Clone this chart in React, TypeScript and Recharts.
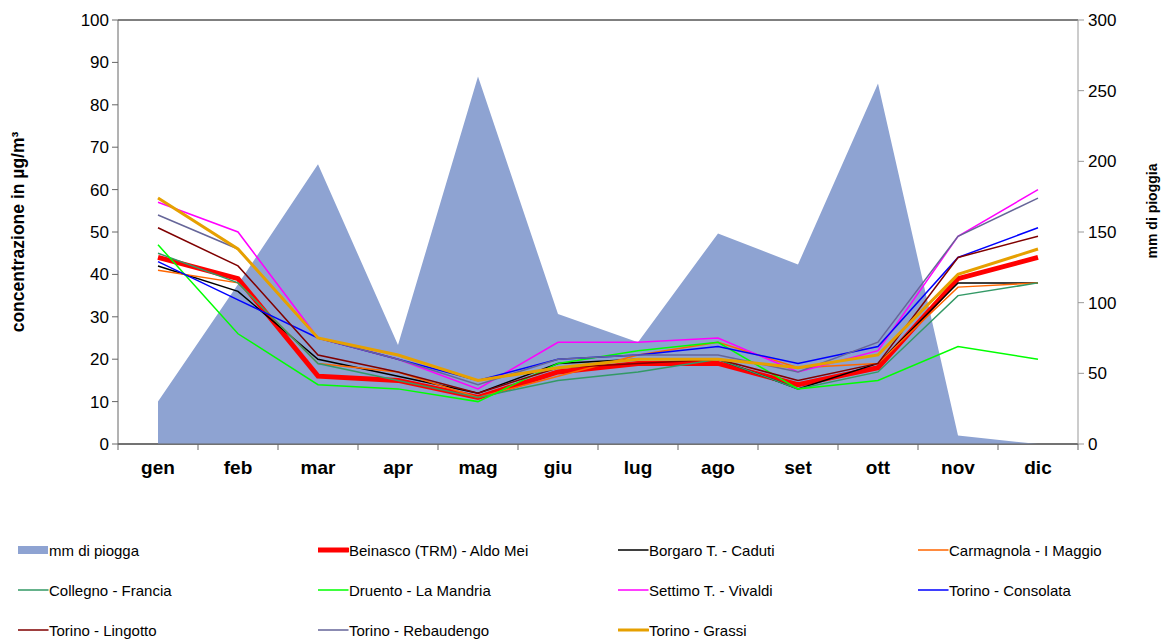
import { ComposedChart, Area, Line, XAxis, YAxis, CartesianGrid } from 'recharts';

const months = ['gen', 'feb', 'mar', 'apr', 'mag', 'giu', 'lug', 'ago', 'set', 'ott', 'nov', 'dic'];

// mm di pioggia (right axis)
const rain = [30, 113, 198, 70, 260, 92, 72, 149, 127, 255, 6, 0];

// concentrazioni µg/m³ (left axis)
const beinasco = [44, 39, 16, 15, 11, 17, 19, 19, 14, 18, 39, 44];
const borgaro = [42, 36, 20, 16, 12, 19, 20, 20, 13, 19, 38, 38];
const carmagnola = [41, 38, 19, 17, 11, 16, 21, 24, 18, 19, 37, 38];
const collegno = [45, 38, 19, 15, 11, 15, 17, 20, 13, 17, 35, 38];
const druento = [47, 26, 14, 13, 10, 19, 22, 24, 13, 15, 23, 20];
const settimo = [57, 50, 25, 20, 13, 24, 24, 25, 17, 22, 49, 60];
const consolata = [43, 34, 25, 20, 15, 20, 21, 23, 19, 23, 44, 51];
const lingotto = [51, 42, 21, 17, 12, 18, 19, 20, 15, 19, 44, 49];
const rebaudengo = [54, 46, 25, 20, 14, 20, 21, 21, 17, 24, 49, 58];
const grassi = [58, 46, 25, 21, 15, 18, 20, 20, 18, 21, 40, 46];

const leftTicks = [0, 10, 20, 30, 40, 50, 60, 70, 80, 90, 100];
const rightTicks = [0, 50, 100, 150, 200, 250, 300];

const RAIN_COLOR = '#8EA3D2';

const series = [
  { key: 'beinasco', name: 'Beinasco (TRM) - Aldo Mei', values: beinasco, color: '#FF0000', width: 5 },
  { key: 'borgaro', name: 'Borgaro T. - Caduti', values: borgaro, color: '#000000', width: 1.5 },
  { key: 'carmagnola', name: 'Carmagnola - I Maggio', values: carmagnola, color: '#FF6600', width: 1.5 },
  { key: 'collegno', name: 'Collegno - Francia', values: collegno, color: '#339966', width: 1.5 },
  { key: 'druento', name: 'Druento - La Mandria', values: druento, color: '#00FF00', width: 1.5 },
  { key: 'settimo', name: 'Settimo T. - Vivaldi', values: settimo, color: '#FF00FF', width: 1.5 },
  { key: 'consolata', name: 'Torino - Consolata', values: consolata, color: '#0000FF', width: 1.5 },
  { key: 'lingotto', name: 'Torino - Lingotto', values: lingotto, color: '#800000', width: 1.5 },
  { key: 'rebaudengo', name: 'Torino - Rebaudengo', values: rebaudengo, color: '#666699', width: 1.5 },
  { key: 'grassi', name: 'Torino - Grassi', values: grassi, color: '#E6A000', width: 3 },
];

const data = months.map((m, i) => {
  const row: Record<string, string | number> = { month: m, rain: rain[i] };
  series.forEach(s => {
    row[s.key] = s.values[i];
  });
  return row;
});

const FONT = '"Liberation Sans", Arial, sans-serif';

// month label + tick mark on the category boundary (Excel style)
function MonthTick(props: any) {
  const { x, y, payload, index } = props;
  const half = 40;
  return (
    <g>
      <line x1={x - half} y1={y} x2={x - half} y2={y + 6} stroke="#666" />
      {index === months.length - 1 && (
        <line x1={x + half} y1={y} x2={x + half} y2={y + 6} stroke="#666" />
      )}
      <text x={x} y={y + 30} textAnchor="middle" fontFamily={FONT} fontWeight="bold" fontSize={19} fill="#000">
        {payload.value}
      </text>
    </g>
  );
}

const legendItems = [
  { name: 'mm di piogga', color: RAIN_COLOR, width: 0, area: true },
  ...series.map(s => ({ name: s.name, color: s.color, width: s.width, area: false })),
];

function LegendBox() {
  return (
    <div style={{ position: 'absolute', left: 18, top: 538, width: 1140, fontFamily: FONT, fontSize: 15, color: '#000' }}>
      {legendItems.map((it, i) => (
        <div
          key={it.name}
          style={{
            position: 'absolute',
            left: (i % 4) * 300,
            top: Math.floor(i / 4) * 40,
            height: 24,
            display: 'flex',
            alignItems: 'center',
            whiteSpace: 'nowrap',
          }}
        >
          <svg width={31} height={12} style={{ display: 'block' }}>
            {it.area ? (
              <rect x={0} y={2} width={30} height={8} fill={it.color} />
            ) : (
              <line x1={0} y1={6} x2={30} y2={6} stroke={it.color} strokeWidth={it.width} strokeLinecap="round" />
            )}
          </svg>
          <span>{it.name}</span>
        </div>
      ))}
    </div>
  );
}

export default function App() {
  return (
    <div style={{ position: 'absolute', left: 0, top: 0, width: 1161, height: 639, background: '#fff' }}>
      <ComposedChart
        width={1161}
        height={639}
        data={data}
        margin={{ top: 20, right: 23, bottom: 155, left: 58 }}
      >
        <CartesianGrid vertical={false} stroke="#000" strokeWidth={1} />
        <XAxis
          dataKey="month"
          height={40}
          padding={{ left: 40, right: 40 }}
          tickLine={false}
          tickSize={0}
          tickMargin={0}
          axisLine={{ stroke: '#666' }}
          tick={<MonthTick />}
          interval={0}
        />
        <YAxis
          yAxisId="left"
          domain={[0, 100]}
          ticks={leftTicks}
          width={60}
          tickSize={6}
          tickMargin={3}
          axisLine={{ stroke: '#666' }}
          tickLine={{ stroke: '#666' }}
          tick={{ fontFamily: FONT, fontSize: 17, fill: '#000' }}
          label={{
            content: (p: any) => {
              const vb = p.viewBox;
              const cx = vb.x - 40;
              const cy = vb.y + vb.height / 2;
              return (
                <text x={cx} y={cy} transform={`rotate(-90 ${cx} ${cy})`} textAnchor="middle" dominantBaseline="central" fontFamily={FONT} fontWeight="bold" fontSize={17.5}>
                  concentrazione in µg/m³
                </text>
              );
            },
          }}
        />
        <YAxis
          yAxisId="right"
          orientation="right"
          domain={[0, 300]}
          ticks={rightTicks}
          width={60}
          tickSize={6}
          tickMargin={4}
          axisLine={{ stroke: '#999' }}
          tickLine={{ stroke: '#999' }}
          tick={{ fontFamily: FONT, fontSize: 17, fill: '#000' }}
          label={{
            content: (p: any) => {
              const vb = p.viewBox;
              const cx = vb.x + 74;
              const cy = vb.y + vb.height / 2 - 21;
              return (
                <text x={cx} y={cy} transform={`rotate(-90 ${cx} ${cy})`} textAnchor="middle" dominantBaseline="central" fontFamily={FONT} fontWeight="bold" fontSize={14}>
                  mm di pioggia
                </text>
              );
            },
          }}
        />
        <Area
          yAxisId="right"
          type="linear"
          dataKey="rain"
          name="mm di piogga"
          fill={RAIN_COLOR}
          fillOpacity={1}
          stroke="none"
          isAnimationActive={false}
        />
        {series.map(s => (
          <Line
            key={s.key}
            yAxisId="left"
            type="linear"
            dataKey={s.key}
            name={s.name}
            stroke={s.color}
            strokeWidth={s.width}
            dot={false}
            activeDot={false}
            isAnimationActive={false}
          />
        ))}
      </ComposedChart>
      <LegendBox />
    </div>
  );
}
